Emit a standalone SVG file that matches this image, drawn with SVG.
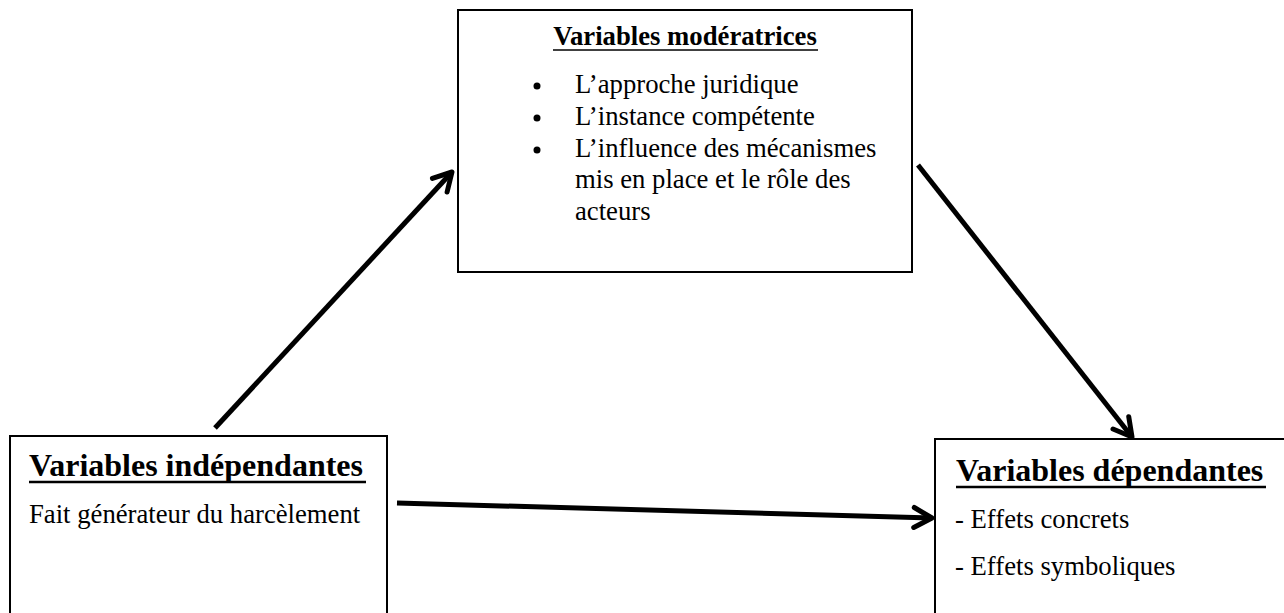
<svg xmlns="http://www.w3.org/2000/svg" width="1284" height="613" viewBox="0 0 1284 613">
<style>
.box{fill:#fff;stroke:#000;stroke-width:2}
.t{font-family:"Liberation Serif","Times New Roman",serif;fill:#000}
.reg{font-size:26.7px}
.b1{font-size:26.7px;font-weight:bold}
.b2{font-size:32px;font-weight:bold}
.ul{stroke:#000}
.conn{fill:none;stroke:#000;stroke-width:5;marker-end:url(#arr)}
</style>
<defs>
<marker id="arr" markerUnits="userSpaceOnUse" viewBox="0 0 26 26" refX="22" refY="13" markerWidth="26" markerHeight="26" orient="auto">
<path d="M4,3 L22,13 L4,23" fill="none" stroke="#000" stroke-width="5" stroke-linecap="round" stroke-linejoin="round"/>
</marker>
</defs>
<rect width="1284" height="613" fill="#fff"/>
<g id="moderatrices">
<rect class="box" x="458" y="10" width="454" height="262"/>
<text class="t b1" x="685" y="45" text-anchor="middle">Variables modératrices</text>
<line class="ul" x1="553" y1="50" x2="818" y2="50" stroke-width="1.5"/>
<circle cx="537" cy="86" r="3.5"/>
<circle cx="537" cy="118" r="3.5"/>
<circle cx="537" cy="150" r="3.5"/>
<text class="t reg" x="575" y="93">L’approche juridique</text>
<text class="t reg" x="575" y="125">L’instance compétente</text>
<text class="t reg" x="575" y="157">L’influence des mécanismes</text>
<text class="t reg" x="575" y="188">mis en place et le rôle des</text>
<text class="t reg" x="575" y="220">acteurs</text>
</g>
<g id="independantes">
<rect class="box" x="10" y="436" width="377" height="200"/>
<text class="t b2" x="29" y="476">Variables indépendantes</text>
<line class="ul" x1="29" y1="482" x2="366" y2="482" stroke-width="2.5"/>
<text class="t reg" x="29" y="523">Fait générateur du harcèlement</text>
</g>
<g id="dependantes">
<rect class="box" x="935" y="439" width="360" height="200"/>
<text class="t b2" x="956" y="481">Variables dépendantes</text>
<line class="ul" x1="956" y1="487" x2="1266" y2="487" stroke-width="2.5"/>
<text class="t reg" x="955" y="528">- Effets concrets</text>
<text class="t reg" x="955" y="575">- Effets symboliques</text>
</g>
<g id="connectors">
<line class="conn" x1="215" y1="428" x2="452" y2="172"/>
<line class="conn" x1="918" y1="165" x2="1132" y2="437"/>
<line class="conn" x1="397" y1="503" x2="932" y2="518"/>
</g>
</svg>
